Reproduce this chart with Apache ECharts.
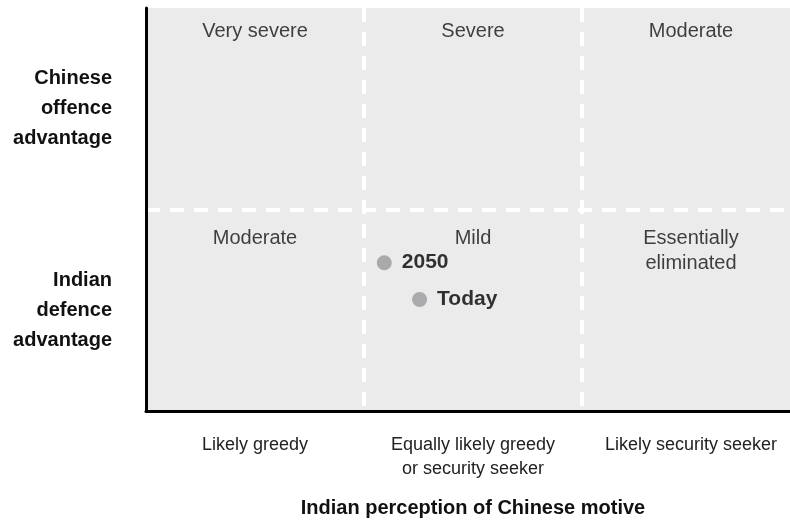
<!DOCTYPE html>
<html>
<head>
<meta charset="utf-8">
<script src="https://cdn.jsdelivr.net/npm/echarts@6/dist/echarts.min.js"></script>
<style>html,body{margin:0;padding:0;background:#fff;}#c{width:790px;height:520px;}</style>
</head>
<body>
<div id="c"></div>
<script>
var xCategories = ['Likely greedy', 'Equally likely greedy\nor security seeker', 'Likely security seeker'];
var yCategories = ['Indian\ndefence\nadvantage', 'Chinese\noffence\nadvantage'];
var xName = 'Indian perception of Chinese motive';
var cellLabels = ['Very severe', 'Severe', 'Moderate', 'Moderate', 'Mild', 'Essentially\neliminated'];
var cellX = [0.5, 1.5, 2.5, 0.5, 1.5, 2.5];
var cellY = [1.945, 1.945, 1.945, 0.916, 0.916, 0.916];
var pointNames = ['2050', 'Today'];
var pointX = [1.093, 1.255];
var pointY = [0.736, 0.553];

var font = '"Liberation Sans", Arial, Helvetica, sans-serif';
var chart = echarts.init(document.getElementById('c'));
chart.setOption({
  animation: false,
  grid: { left: 146, top: 8, width: 654, bottom: 109, show: true, backgroundColor: '#ebebeb', borderWidth: 0,
    containLabel: false, outerBoundsMode: 'none' },
  xAxis: [
    { type: 'value', min: 0, max: 3, interval: 1, position: 'bottom',
      axisLine: { show: true, lineStyle: { color: '#000', width: 3 } },
      axisTick: { show: false }, axisLabel: { show: false },
      splitLine: { show: true, showMinLine: false, showMaxLine: false, lineStyle: { color: '#fff', width: 4, type: [14, 10] } } },
    { type: 'category', data: xCategories, position: 'bottom',
      axisLine: { show: false }, axisTick: { show: false },
      axisLabel: { interval: 0, margin: 22, fontFamily: font, fontSize: 18, color: '#222', lineHeight: 24 },
      name: xName, nameLocation: 'middle', nameGap: 87,
      nameTextStyle: { fontFamily: font, fontSize: 20, color: '#111', fontWeight: 'bold' } }
  ],
  yAxis: [
    { type: 'value', min: 0, max: 2, interval: 1, position: 'left',
      axisLine: { show: true, lineStyle: { color: '#000', width: 3 } },
      axisTick: { show: false }, axisLabel: { show: false },
      splitLine: { show: true, showMinLine: false, showMaxLine: false, lineStyle: { color: '#fff', width: 4, type: [14, 10] } } },
    { type: 'category', data: yCategories, position: 'left',
      axisLine: { show: false }, axisTick: { show: false },
      axisLabel: { interval: 0, margin: 34, fontFamily: font, fontSize: 20, color: '#111', lineHeight: 30, align: 'right', fontWeight: 'bold' } }
  ],
  series: [
    { type: 'scatter', xAxisIndex: 0, yAxisIndex: 0, symbolSize: 0, silent: true,
      data: cellLabels.map(function (t, i) { return { value: [cellX[i], cellY[i]], name: t }; }),
      label: { show: true, position: 'inside', verticalAlign: 'top', align: 'center',
        formatter: '{b}', fontFamily: font, fontSize: 20, color: '#111', lineHeight: 25 } },
    { type: 'scatter', xAxisIndex: 0, yAxisIndex: 0, symbolSize: 15,
      itemStyle: { color: '#9a9a9e' },
      data: pointNames.map(function (t, i) { return { value: [pointX[i], pointY[i]], name: t }; }),
      label: { show: true, position: 'right', distance: 10, formatter: '{b}',
        fontFamily: font, fontSize: 21, fontWeight: 'bold', color: '#000' } }
  ]
});
</script>
</body>
</html>
